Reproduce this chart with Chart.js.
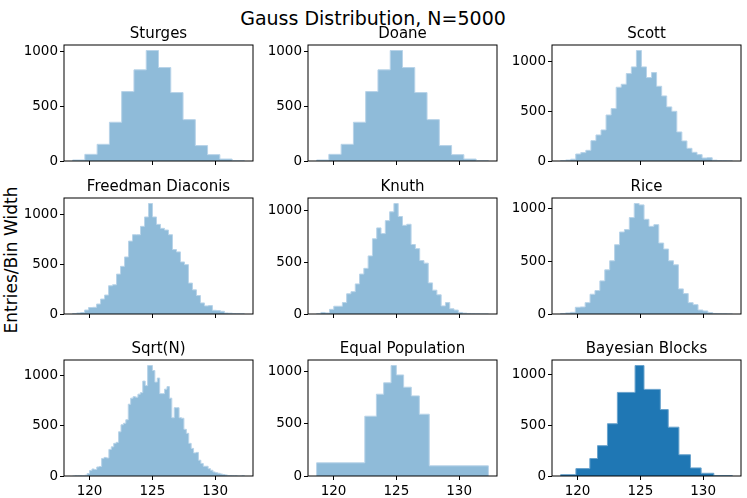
<!DOCTYPE html>
<html>
<head>
<meta charset="utf-8">
<script src="https://cdn.jsdelivr.net/npm/chart.js@4.4.0/dist/chart.umd.min.js"></script>
<style>
  html, body { margin: 0; padding: 0; background: #fff; }
  #figura { position: relative; width: 747px; height: 498px; overflow: hidden; font-family: 'DejaVu Sans', sans-serif; color: #000; }
  #figura canvas { position: absolute; }
  #suptitulo { position: absolute; left: 0; top: 7px; width: 746px; text-align: center; font-size: 19px; line-height: 22px; }
  #rotuloY { position: absolute; left: -139px; top: 250px; width: 300px; height: 20px; line-height: 20px; text-align: center; font-size: 17px; transform: rotate(-90deg); }
</style>
</head>
<body>
<div id="figura">
  <div id="suptitulo">Gauss Distribution, N=5000</div>
  <div id="rotuloY">Entries/Bin Width</div>
</div>
<script>
const xTicks = [120, 125, 130];
const yTicks = [0, 500, 1000];
const dataMin = 118.65;
const dataMax = 132.33;

const titles = ['Sturges', 'Doane', 'Scott', 'Freedman Diaconis', 'Knuth', 'Rice', 'Sqrt(N)', 'Equal Population', 'Bayesian Blocks'];

// entries / bin width
const sturges = [9, 61, 153, 355, 636, 835, 1012, 856, 627, 379, 141, 58, 18, 3];
const doane = [9, 61, 153, 355, 636, 835, 1012, 856, 627, 379, 141, 58, 18, 3];
const scott = [5, 10, 18, 70, 84, 107, 204, 261, 311, 461, 525, 739, 769, 876, 943, 1107, 943, 836,
  886, 749, 652, 542, 498, 291, 201, 127, 87, 64, 30, 33, 8, 5, 3, 2];
const freedman = [5, 10, 15, 40, 65, 67, 100, 150, 190, 283, 293, 400, 478, 572, 731, 795, 795, 879,
  973, 1108, 973, 899, 859, 842, 795, 646, 623, 522, 495, 310, 242, 185, 111, 81, 84, 37, 34, 27,
  10, 8, 5, 3, 2];
const knuth = [3, 15, 10, 45, 75, 75, 110, 195, 215, 290, 385, 440, 560, 725, 830, 775, 900, 985,
  1065, 940, 855, 865, 670, 630, 515, 490, 300, 230, 185, 78, 110, 50, 38, 15, 8, 5, 3, 2, 1, 1];
const rice = [5, 10, 16, 64, 67, 108, 188, 223, 315, 420, 506, 659, 780, 803, 917, 1051, 1038, 901,
  834, 850, 675, 618, 506, 468, 239, 194, 108, 89, 38, 29, 13, 5, 3, 2, 1];
const sqrtN = [0, 3, 3, 5, 3, 8, 25, 55, 70, 65, 90, 95, 175, 185, 180, 265, 290, 325, 335, 440, 510,
  525, 560, 715, 775, 790, 785, 815, 830, 945, 900, 1100, 1100, 1050, 935, 975, 820, 820, 865, 890,
  775, 580, 680, 680, 580, 575, 465, 425, 325, 275, 230, 235, 157, 125, 97, 97, 73, 57, 40, 33, 27,
  20, 15, 10, 5, 5, 3, 3, 0, 0, 3];
const equalPopEdges = [118.65, 122.49, 123.41, 123.99, 124.58, 125.0, 125.58, 126.19, 126.83, 127.62, 132.33];
const equalPop = [126, 571, 781, 890, 1055, 965, 848, 765, 590, 97];
const bayesEdges = [118.65, 119.87, 120.98, 121.59, 122.38, 123.17, 124.58, 125.29, 126.59, 127.22,
  128.07, 128.99, 129.84, 130.85, 132.33];
const bayes = [13, 73, 173, 300, 517, 827, 1093, 857, 657, 483, 210, 80, 27, 3];

// layout of the 3x3 grid (pixels)
const colLeft = [64, 308, 552];
const rowTop = [45, 198, 360];
const PLOT_W = 189;
const PLOT_H = 116;
const Y_AXIS_W = 50;
const X_AXIS_H = 24;
const TITLE_H = 24;
const PAD_R = 4;

const margem = 0.05 * (dataMax - dataMin);
const xMin = dataMin - margem;
const xMax = dataMax + margem;

function evenEdges(n) {
  const w = (dataMax - dataMin) / n;
  const e = [];
  for (let i = 0; i <= n; i++) e.push(dataMin + i * w);
  return e;
}

function stepPoints(edges, values) {
  const pts = [{ x: edges[0], y: 0 }];
  values.forEach((v, k) => pts.push({ x: edges[k], y: v }));
  pts.push({ x: edges[edges.length - 1], y: values[values.length - 1] });
  pts.push({ x: edges[edges.length - 1], y: 0 });
  return pts;
}

const claro = { fill: 'rgba(31, 119, 180, 0.5)', line: '#b9d4e9' };
const escuro = { fill: '#1f77b4', line: '#6aa3cd' };

const panels = [
  { values: sturges, edges: evenEdges(sturges.length), cor: claro },
  { values: doane, edges: evenEdges(doane.length), cor: claro },
  { values: scott, edges: evenEdges(scott.length), cor: claro },
  { values: freedman, edges: evenEdges(freedman.length), cor: claro },
  { values: knuth, edges: evenEdges(knuth.length), cor: claro },
  { values: rice, edges: evenEdges(rice.length), cor: claro },
  { values: sqrtN, edges: evenEdges(sqrtN.length), cor: claro },
  { values: equalPop, edges: equalPopEdges, cor: claro },
  { values: bayes, edges: bayesEdges, cor: escuro }
];

// box around the plot area, like the matplotlib spines
const moldura = {
  id: 'moldura',
  afterDatasetsDraw(chart) {
    const { ctx, chartArea: a } = chart;
    ctx.save();
    ctx.strokeStyle = '#000';
    ctx.lineWidth = 1;
    ctx.strokeRect(a.left, a.top, a.right - a.left, a.bottom - a.top);
    ctx.restore();
  }
};

Chart.defaults.font.family = "'DejaVu Sans', sans-serif";
Chart.defaults.color = '#000';

const figura = document.getElementById('figura');

panels.forEach((p, i) => {
  const col = i % 3;
  const row = Math.floor(i / 3);
  const canvas = document.createElement('canvas');
  canvas.width = Y_AXIS_W + PLOT_W + PAD_R;
  canvas.height = TITLE_H + PLOT_H + X_AXIS_H;
  canvas.style.left = (colLeft[col] - Y_AXIS_W) + 'px';
  canvas.style.top = (rowTop[row] - TITLE_H) + 'px';
  figura.appendChild(canvas);

  const gradeComum = { display: true, drawOnChartArea: false, drawTicks: true, tickLength: 4, tickColor: '#000', lineWidth: 1 };

  new Chart(canvas, {
    type: 'line',
    data: {
      datasets: [{
        data: stepPoints(p.edges, p.values),
        stepped: 'before',
        fill: 'origin',
        backgroundColor: p.cor.fill,
        borderColor: p.cor.line,
        borderWidth: 1,
        pointRadius: 0,
        tension: 0
      }]
    },
    options: {
      responsive: false,
      animation: false,
      events: [],
      layout: { padding: { top: 0, left: 0, right: PAD_R, bottom: 0 } },
      plugins: {
        legend: { display: false },
        tooltip: { enabled: false },
        title: {
          display: true,
          text: titles[i],
          fullSize: false,
          color: '#000',
          font: { size: 15, weight: 'normal' },
          padding: { top: 4, bottom: 2 }
        }
      },
      scales: {
        x: {
          type: 'linear',
          min: xMin,
          max: xMax,
          bounds: 'data',
          grid: gradeComum,
          border: { display: false },
          ticks: {
            color: '#000',
            font: { size: 13.5 },
            padding: 3,
            maxRotation: 0,
            callback: (v) => row === 2 ? String(v) : ''
          },
          afterBuildTicks: (s) => { s.ticks = xTicks.map(v => ({ value: v })); },
          afterFit: (s) => { s.height = X_AXIS_H; }
        },
        y: {
          type: 'linear',
          min: 0,
          max: 1.05 * Math.max(...p.values),
          bounds: 'data',
          grid: gradeComum,
          border: { display: false },
          ticks: {
            color: '#000',
            font: { size: 13.5 },
            padding: 2,
            callback: (v) => String(v)
          },
          afterBuildTicks: (s) => { s.ticks = yTicks.map(v => ({ value: v })); },
          afterFit: (s) => { s.width = Y_AXIS_W; }
        }
      }
    },
    plugins: [moldura]
  });
});
</script>
</body>
</html>
